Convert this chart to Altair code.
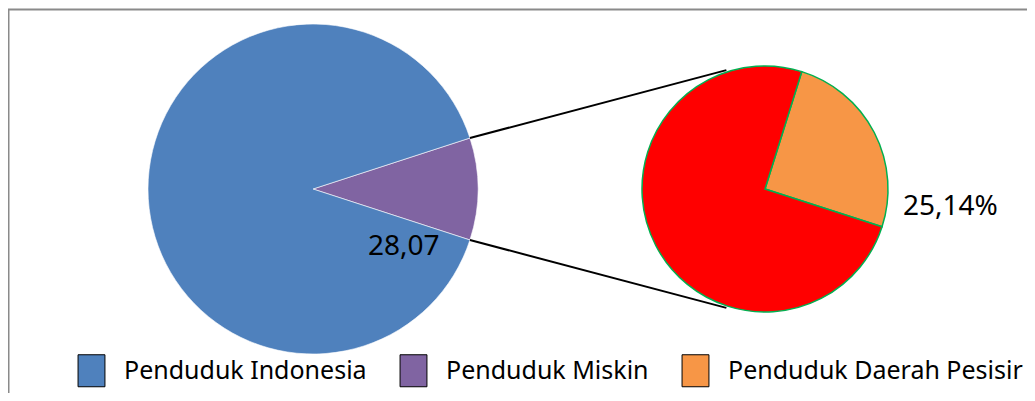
import math
import altair as alt
import pandas as pd

# ---- data ----
kategori_kiri = ["Penduduk Miskin", "Penduduk Indonesia"]
nilai_kiri = [28.07, 252.6]
kategori_kanan = ["Penduduk Daerah Pesisir", "Penduduk Miskin Non-Pesisir"]
persen_kanan = [25.14, 74.86]
legend_items = ["Penduduk Indonesia", "Penduduk Miskin", "Penduduk Daerah Pesisir"]
warna_domain = ["Penduduk Indonesia", "Penduduk Miskin", "Penduduk Daerah Pesisir",
                "Penduduk Miskin Non-Pesisir"]
warna = ["#4f81bd", "#8064a2", "#f79646", "#ff0000"]

# ---- layout ----
W, H = 1018, 383
LCX, LCY, LR, L_START = 304, 179, 165, 72.0
RCX, RCY, RR, R_START = 756, 179, 123, 17.4
CONNECT = 72.0
FONT = "Noto Sans"


def rad(d):
    return d * math.pi / 180.0


def fmt(v):
    return f"{v:.2f}".replace(".", ",")


df_left = pd.DataFrame({
    "kategori": kategori_kiri,
    "nilai": nilai_kiri,
    "urutan": list(range(len(kategori_kiri))),
})
df_left["label"] = [fmt(v) for v in nilai_kiri]

df_right = pd.DataFrame({
    "kategori": kategori_kanan,
    "nilai": persen_kanan,
    "urutan": list(range(len(kategori_kanan))),
})
df_right["label"] = [fmt(v) + "%" for v in persen_kanan]

# connector lines: from the edges of the "Penduduk Miskin" slice to the second pie
frac = nilai_kiri[0] / sum(nilai_kiri)
a0 = L_START
a1 = L_START + 360.0 * frac
b0 = 270.0 + CONNECT
b1 = 270.0 - CONNECT


def pt(cx, cy, r, deg):
    return cx + r * math.sin(rad(deg)), cy - r * math.cos(rad(deg))


p0 = pt(LCX, LCY, LR, a0)
p1 = pt(LCX, LCY, LR, a1)
q0 = pt(RCX, RCY, RR + 2, b0)
q1 = pt(RCX, RCY, RR + 2, b1)
df_lines = pd.DataFrame({
    "x": [p0[0], p1[0]], "y": [p0[1], p1[1]],
    "x2": [q0[0], q1[0]], "y2": [q0[1], q1[1]],
})

color = alt.Color(
    "kategori:N",
    scale=alt.Scale(domain=warna_domain, range=warna),
    legend=alt.Legend(
        values=legend_items, title=None, orient="none", direction="horizontal",
        legendX=66, legendY=344,
        symbolType="M-0.84,-1H0.84V1H-0.84Z", symbolSize=1024,
        symbolStrokeColor="black", symbolStrokeWidth=1, symbolOpacity=1,
        labelFont=FONT, labelFontSize=25, labelColor="black",
        labelOffset=16, columnPadding=30, padding=0, labelLimit=0,
    ),
)

left = alt.Chart(df_left).mark_arc(
    outerRadius=LR, x=LCX, y=LCY, stroke="white", strokeWidth=0.6
).encode(
    theta=alt.Theta("nilai:Q", stack=True,
                    scale=alt.Scale(range=[rad(L_START), rad(L_START) + 2 * math.pi])),
    color=color,
    order=alt.Order("urutan:Q"),
)

right = alt.Chart(df_right).mark_arc(
    outerRadius=RR, x=RCX, y=RCY, stroke="#00b050", strokeWidth=1.5
).encode(
    theta=alt.Theta("nilai:Q", stack=True,
                    scale=alt.Scale(range=[rad(R_START), rad(R_START) + 2 * math.pi])),
    color=color,
    order=alt.Order("urutan:Q"),
)

lines = alt.Chart(df_lines).mark_rule(color="black", strokeWidth=2).encode(
    x=alt.X("x:Q", scale=alt.Scale(domain=[0, W], nice=False, zero=False), axis=None),
    y=alt.Y("y:Q", scale=alt.Scale(domain=[0, H], nice=False, zero=False, reverse=True),
            axis=None),
    x2="x2:Q",
    y2="y2:Q",
)

label_left = alt.Chart(df_left).transform_filter(
    alt.datum.kategori == "Penduduk Miskin"
).mark_text(
    x=359, y=245, align="left", baseline="alphabetic", font=FONT, fontSize=28, color="black"
).encode(text="label:N")

label_right = alt.Chart(df_right).transform_filter(
    alt.datum.kategori == "Penduduk Daerah Pesisir"
).mark_text(
    x=894, y=205, align="left", baseline="alphabetic", font=FONT, fontSize=28, color="black"
).encode(text="label:N")

one = pd.DataFrame({"b": [0]})
border_top = alt.Chart(one).mark_rule(color="#8a8a8a", strokeWidth=2).encode(
    x=alt.value(-1), x2=alt.value(W + 5), y=alt.value(-0.5)
)
border_left = alt.Chart(one).mark_rule(color="#8a8a8a", strokeWidth=2).encode(
    x=alt.value(-0.5), y=alt.value(-1), y2=alt.value(H + 5)
)

chart = alt.layer(
    border_top, border_left, left, right, lines, label_left, label_right
).resolve_scale(theta="independent").properties(
    width=W, height=H,
    padding={"left": 1, "top": 2, "right": 0, "bottom": 0},
    autosize=alt.AutoSizeParams(type="none"),
).configure_view(stroke=None)

chart.save("out.html", embed_options={"renderer": "svg", "actions": False})
